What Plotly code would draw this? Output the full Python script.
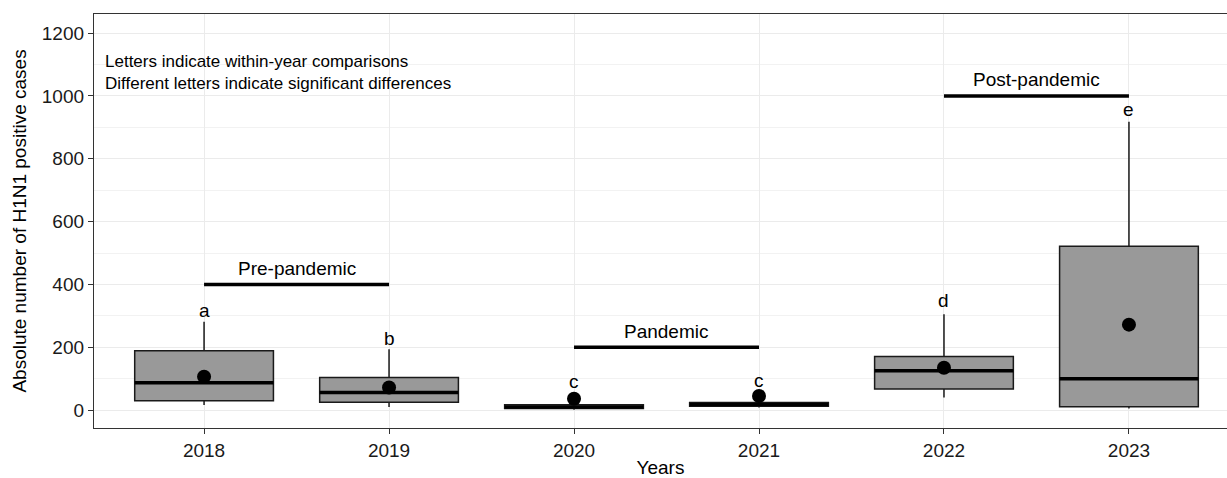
import plotly.graph_objects as go

years = ["2018", "2019", "2020", "2021", "2022", "2023"]
lower_whisker = [16, 10, 1, 8, 40, 5]
q1 = [30, 25, 5, 12, 67, 11]
median = [87, 56, 10, 18, 125, 100]
q3 = [189, 104, 17, 24, 171, 522]
upper_whisker = [281, 194, 20, 26, 305, 918]
means = [106, 72, 36, 45, 135, 272]
letters = ["a", "b", "c", "c", "d", "e"]
letter_y = [318, 229, 92, 95, 350, 958]

periods = ["Pre-pandemic", "Pandemic", "Post-pandemic"]
period_start = [0, 2, 4]
period_end = [1, 3, 5]
period_line_y = [400, 200, 1000]
period_label_y = [452, 250, 1051]

notes = ["Letters indicate within-year comparisons",
         "Different letters indicate significant differences"]
notes_y = 1075

FONT = "Liberation Sans, Arial, sans-serif"
BOX_W = 0.75
xs = list(range(len(years)))

fig = go.Figure()
for i, yr in enumerate(years):
    fig.add_trace(go.Box(
        x=[i], q1=[q1[i]], median=[median[i]], q3=[q3[i]],
        lowerfence=[lower_whisker[i]], upperfence=[upper_whisker[i]],
        width=BOX_W, whiskerwidth=0, fillcolor="#999999",
        line=dict(color="#1a1a1a", width=1.5), showlegend=False,
        hoverinfo="skip"))

# thick median lines
for i in xs:
    fig.add_trace(go.Scatter(
        x=[i - BOX_W / 2, i + BOX_W / 2], y=[median[i], median[i]],
        mode="lines", line=dict(color="black", width=3.5),
        showlegend=False, hoverinfo="skip"))

# means
fig.add_trace(go.Scatter(x=xs, y=means, mode="markers",
                         marker=dict(color="black", size=14),
                         showlegend=False, hoverinfo="skip"))

# period brackets
for p, s, e, ly in zip(periods, period_start, period_end, period_line_y):
    fig.add_trace(go.Scatter(x=[s, e], y=[ly, ly], mode="lines",
                             line=dict(color="black", width=3.5),
                             showlegend=False, hoverinfo="skip"))

annotations = []
for i in xs:
    annotations.append(dict(x=i, y=letter_y[i], text=letters[i], showarrow=False,
                            font=dict(size=19, color="black", family=FONT),
                            yanchor="middle"))
for p, s, e, ty in zip(periods, period_start, period_end, period_label_y):
    annotations.append(dict(x=(s + e) / 2, y=ty, text=p, showarrow=False,
                            font=dict(size=19, color="black", family=FONT),
                            yanchor="middle"))
annotations.append(dict(x=-0.545, y=notes_y, text="<br>".join(notes), showarrow=False,
                        xanchor="left", align="left",
                        font=dict(size=17, color="black", family=FONT),
                        yanchor="middle"))

fig.update_layout(
    width=1227, height=478,
    margin=dict(l=94, r=0, t=14, b=50),
    paper_bgcolor="white", plot_bgcolor="white",
    font=dict(family=FONT, size=19, color="black"),
    annotations=annotations,
    xaxis=dict(range=[-0.595, 5.53], tickvals=xs, ticktext=years,
               automargin=False,
               showgrid=True, gridcolor="#EBEBEB", gridwidth=1.2,
               showline=True, linecolor="#333333", linewidth=1.3, mirror=True,
               ticks="outside", ticklen=5, tickcolor="#333333",
               tickfont=dict(size=19, color="#1a1a1a"),
               title=dict(text="Years", font=dict(size=19), standoff=2),
               zeroline=False),
    yaxis=dict(range=[-57, 1261], tickvals=[0, 200, 400, 600, 800, 1000, 1200],
               automargin=False,
               showgrid=True, gridcolor="#EBEBEB", gridwidth=1.2,
               minor=dict(dtick=100, tick0=0, showgrid=True, gridcolor="#F2F2F2", gridwidth=1),
               showline=True, linecolor="#333333", linewidth=1.3,
               ticks="outside", ticklen=5, tickcolor="#333333",
               tickfont=dict(size=19, color="#1a1a1a"),
               title=dict(text="Absolute number of H1N1 positive cases", font=dict(size=19), standoff=10),
               zeroline=False),
)

fig.write_html("out.html", config={"displayModeBar": False},
               post_script="document.body.style.margin='0';document.body.style.overflow='hidden';")
